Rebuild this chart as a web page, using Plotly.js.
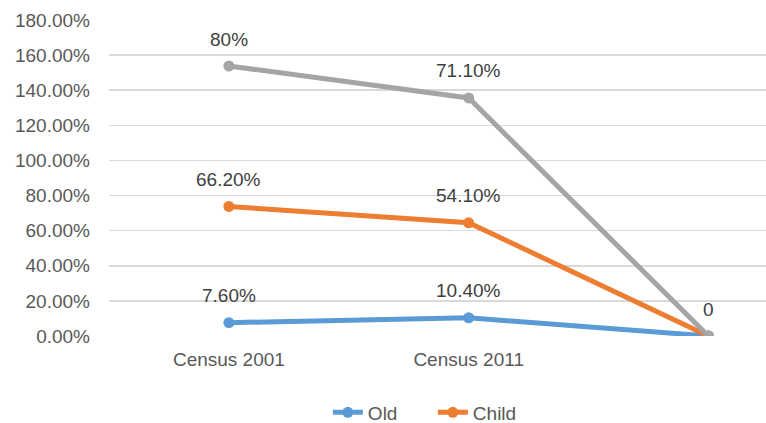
<!DOCTYPE html>
<html>
<head>
<meta charset="utf-8">
<script src="https://cdn.plot.ly/plotly-3.0.1.min.js"></script>
<style>
  html, body { margin: 0; padding: 0; background: #fff; }
  #chart { width: 766px; height: 423px; }
</style>
</head>
<body>
<div id="chart"></div>
<script>
// Census periods (third point has no category label)
const categories = ["Census 2001", "Census 2011", ""];

// Dependency ratios in percent, stacked line series
const oldValues   = [7.6, 10.4, 0];
const childValues = [66.2, 54.1, 0];
const totalValues = [80, 71.1, 0];

// Data labels as shown on the chart
const oldLabels   = ["7.60%", "10.40%", ""];
const childLabels = ["66.20%", "54.10%", ""];
const totalLabels = ["80%", "71.10%", "0"];

const yTicks = [0, 20, 40, 60, 80, 100, 120, 140, 160, 180];
const yTickText = yTicks.map(v => v.toFixed(2) + "%");

const FONT = "Liberation Sans, Arial, sans-serif";
const xIdx = categories.map((_, i) => i);

const seriesDefs = [
  { name: "Old",   y: oldValues,   text: oldLabels,   color: "#5B9BD5", legend: true },
  { name: "Child", y: childValues, text: childLabels, color: "#ED7D31", legend: true },
  { name: "Total", y: totalValues, text: totalLabels, color: "#A5A5A5", legend: false }
];

const data = seriesDefs.map(s => ({
  type: "scatter",
  mode: "lines+markers",
  name: s.name,
  x: xIdx,
  y: s.y,
  stackgroup: "dep",
  fill: "none",
  line: { color: s.color, width: 5 },
  marker: { color: s.color, size: 11 },
  showlegend: s.legend,
  hoverinfo: "skip"
}));

// Data labels sit above each stacked point
const annotations = [];
const running = xIdx.map(() => 0);
seriesDefs.forEach(s => {
  xIdx.forEach(i => {
    running[i] += s.y[i];
    if (s.text[i]) {
      annotations.push({
        x: i, y: running[i], xref: "x", yref: "y",
        text: s.text[i], showarrow: false,
        yshift: 27, yanchor: "middle",
        font: { family: FONT, size: 19, color: "#404040" }
      });
    }
  });
});

const layout = {
  width: 766,
  height: 423,
  margin: { l: 109, r: 0, t: 20, b: 87 },
  paper_bgcolor: "#ffffff",
  plot_bgcolor: "#ffffff",
  font: { family: FONT, size: 19, color: "#595959" },
  annotations: annotations,
  xaxis: {
    type: "linear",
    range: [-0.5, 2.24],
    tickvals: [0, 1],
    ticktext: categories.slice(0, 2),
    showgrid: false,
    zeroline: false,
    showline: false,
    ticks: "",
    ticklabelstandoff: 10,
    tickfont: { family: FONT, size: 19, color: "#595959" },
    automargin: false,
    fixedrange: true
  },
  yaxis: {
    range: [0, 180],
    tickvals: yTicks,
    ticktext: yTickText,
    showgrid: true,
    gridcolor: "#D9D9D9",
    gridwidth: 1.5,
    zeroline: false,
    showline: false,
    ticks: "",
    ticklabelstandoff: 18,
    tickfont: { family: FONT, size: 19, color: "#595959" },
    automargin: false,
    fixedrange: true
  },
  showlegend: true,
  legend: {
    orientation: "h",
    x: 0.428,
    xanchor: "left",
    xref: "container",
    y: 0.025,
    yanchor: "middle",
    yref: "container",
    font: { family: FONT, size: 19, color: "#595959" },
    entrywidth: 60,
    entrywidthmode: "pixels",
    traceorder: "normal"
  }
};

Plotly.newPlot("chart", data, layout, { displayModeBar: false, staticPlot: true });
</script>
</body>
</html>
